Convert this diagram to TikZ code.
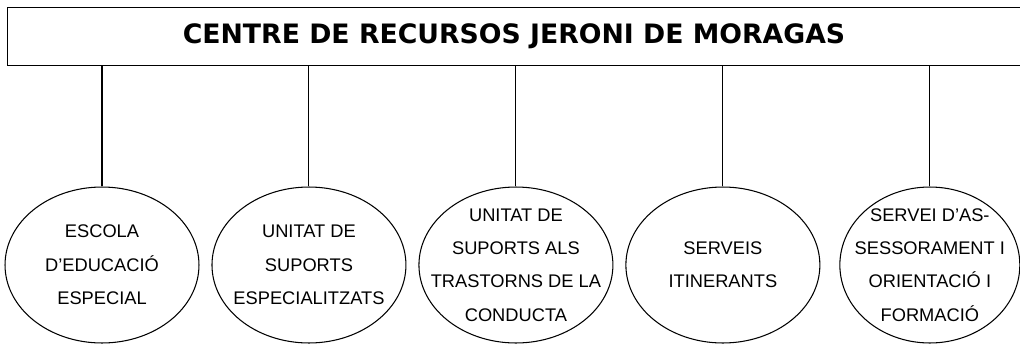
\documentclass[tikz,border=0pt]{standalone}
\usepackage{fontspec}
\setmainfont{Liberation Sans}
\newfontfamily\titlefont{DejaVu Sans}
\usetikzlibrary{shapes.geometric, positioning}

\begin{document}
\begin{tikzpicture} [x=0.02cm, y=-0.02cm, node distance =4.14cm and 4.14cm ,on grid, line width=0.6pt,
	unit/.style ={ellipse, draw, minimum width=3.88cm, minimum height=3.12cm, inner sep=0pt},
	txt/.style ={align=center, font=\fontsize{10.4pt}{19pt}\selectfont}]
	\useasboundingbox (0,0) rectangle (1020,345);
	\node[draw, minimum width=20.28cm, minimum height=1.16cm, inner sep=0pt] (centre) at (514,36.5)
		{\titlefont\bfseries\fontsize{15.2pt}{17pt}\selectfont CENTRE DE RECURSOS JERONI DE MORAGAS};
	% les cinc unitats
	\node[unit, label={[txt]center:ESCOLA\\D’EDUCACIÓ\\ESPECIAL}] (U1) at (102,265) {};
	\node[unit, label={[txt]center:UNITAT DE\\SUPORTS\\ESPECIALITZATS}] (U2) [right=of U1] {};
	\node[unit, label={[txt]center:UNITAT DE\\SUPORTS ALS\\TRASTORNS DE LA\\CONDUCTA}] (U3) [right=of U2] {};
	\node[unit, label={[txt]center:SERVEIS\\ITINERANTS}] (U4) [right=of U3] {};
	\node[unit, minimum width=3.6cm, label={[txt]center:SERVEI D’AS-\\SESSORAMENT I\\ORIENTACIÓ I\\FORMACIÓ}] (U5) [right=of U4] {};
	\foreach \u in {U1,U2,U3,U4,U5}
		\draw (\u.north) -- (\u.north |- centre.south);
\end{tikzpicture}
\end{document}
